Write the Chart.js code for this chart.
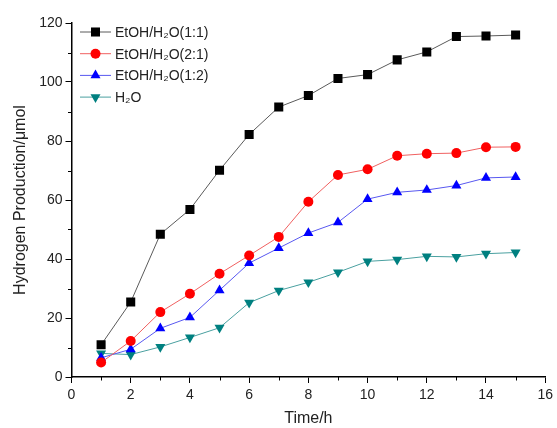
<!DOCTYPE html>
<html>
<head>
<meta charset="utf-8">
<script src="https://cdn.jsdelivr.net/npm/chart.js@4"></script>
<style>
  html, body { margin: 0; padding: 0; background: #fff; }
  #wrap { width: 557px; height: 428px; }
</style>
</head>
<body>
<div id="wrap"><canvas id="myChart" width="557" height="428"></canvas></div>
<script>
// values
let hours = [1, 2, 3, 4, 5, 6, 7, 8, 9, 10, 11, 12, 13, 14, 15]
let etoh11 = [10.9, 25.4, 48.4, 56.8, 70.1, 82.2, 91.5, 95.4, 101.2, 102.5, 107.5, 110.2, 115.4, 115.6, 115.9]
let etoh21 = [4.9, 12.2, 22.0, 28.2, 35.0, 41.2, 47.5, 59.4, 68.5, 70.4, 75.0, 75.7, 75.9, 77.9, 78.0]
let etoh12 = [6.5, 9.4, 16.5, 20.2, 29.4, 38.6, 43.7, 48.8, 52.4, 60.3, 62.6, 63.4, 64.9, 67.5, 67.8]
let water = [8.0, 7.6, 10.2, 13.4, 16.7, 25.2, 29.3, 32.1, 35.5, 39.2, 39.8, 40.9, 40.7, 41.8, 42.2]
let seriesNames = ['EtOH/H\u2082O(1:1)', 'EtOH/H\u2082O(2:1)', 'EtOH/H\u2082O(1:2)', 'H\u2082O']

const font = "'Liberation Sans', Arial, sans-serif"

const pts = (ys) => hours.map((h, i) => ({ x: h, y: ys[i] }))

const makeSet = (label, ys, color, lineColor, style, radius, rotation) => ({
  label: label,
  data: pts(ys),
  borderColor: lineColor,
  backgroundColor: color,
  pointBackgroundColor: color,
  borderWidth: 1,
  pointStyle: style,
  pointRadius: radius,
  pointRotation: rotation,
  pointBorderWidth: 0,
  pointHoverRadius: radius,
  tension: 0
})

// legend drawn inside the plot, line + marker + name
const insideLegend = {
  id: 'insideLegend',
  afterDraw(chart) {
    const c = chart.ctx
    const area = chart.chartArea
    c.save()
    chart.data.datasets.forEach((ds, i) => {
      const y = area.top + 9 + i * 21.7
      const x0 = area.left + 8.5
      c.strokeStyle = ds.borderColor
      c.lineWidth = 1
      c.beginPath()
      c.moveTo(x0, y)
      c.lineTo(x0 + 31, y)
      c.stroke()
      c.fillStyle = ds.backgroundColor
      Chart.helpers.drawPoint(c, {
        pointStyle: ds.pointStyle,
        radius: ds.pointRadius,
        rotation: ds.pointRotation,
        borderWidth: 0
      }, x0 + 15.5, y)
      c.fillStyle = '#222'
      c.font = '14px ' + font
      c.textBaseline = 'middle'
      c.fillText(ds.label, x0 + 35, y + 1)
    })
    c.restore()
  }
}

// short ticks for the odd steps
const minorTicks = {
  id: 'minorTicks',
  afterDraw(chart) {
    const c = chart.ctx
    const xs = chart.scales.x
    const ys = chart.scales.y
    c.save()
    c.strokeStyle = '#000'
    c.lineWidth = 1
    c.beginPath()
    xs.ticks.forEach((t) => {
      if (t.value % 2 !== 0) {
        const px = Math.round(xs.getPixelForValue(t.value)) + 0.5
        c.moveTo(px, xs.top)
        c.lineTo(px, xs.top + 3.5)
      }
    })
    ys.ticks.forEach((t) => {
      if (t.value % 20 !== 0) {
        const py = Math.round(ys.getPixelForValue(t.value)) + 0.5
        c.moveTo(ys.right, py)
        c.lineTo(ys.right - 3.5, py)
      }
    })
    c.stroke()
    c.restore()
  }
}

const ctx = document.getElementById('myChart')
const chart = new Chart(ctx, {
  type: 'line',
  data: {
    datasets: [
      makeSet(seriesNames[0], etoh11, '#000000', '#5a5a5a', 'rect', 6.4, 0),
      makeSet(seriesNames[1], etoh21, '#ff0000', '#f06060', 'circle', 5, 0),
      makeSet(seriesNames[2], etoh12, '#0000ff', '#5858f0', 'triangle', 5.8, 0),
      makeSet(seriesNames[3], water, '#008080', '#4aa0a0', 'triangle', 5.8, 180)
    ]
  },
  options: {
    responsive: false,
    animation: false,
    layout: { padding: { left: 0, top: 23, right: 8, bottom: 0 } },
    plugins: {
      legend: { display: false },
      tooltip: { enabled: false }
    },
    scales: {
      x: {
        type: 'linear',
        min: 0,
        max: 16,
        afterFit: (s) => { s.height = 51 },
        border: { display: true, color: '#000', width: 1.5 },
        grid: {
          drawOnChartArea: false,
          tickLength: 6,
          tickColor: (c) => (c.tick && c.tick.value % 2 !== 0 ? 'rgba(0,0,0,0)' : '#000')
        },
        ticks: {
          stepSize: 1,
          autoSkip: false,
          maxRotation: 0,
          padding: 4,
          color: '#222',
          font: { family: font, size: 14 },
          callback: (v) => (v % 2 === 0 ? v : '')
        },
        title: {
          display: true,
          text: 'Time/h',
          color: '#222',
          font: { family: font, size: 16 },
          padding: { top: 0, bottom: 0 }
        }
      },
      y: {
        min: 0,
        max: 120,
        afterFit: (s) => { s.width = 71.5 },
        border: { display: true, color: '#000', width: 1.5 },
        grid: {
          drawOnChartArea: false,
          tickLength: 6,
          tickColor: (c) => (c.tick && c.tick.value % 20 !== 0 ? 'rgba(0,0,0,0)' : '#000')
        },
        ticks: {
          stepSize: 10,
          autoSkip: false,
          padding: 3,
          color: '#222',
          font: { family: font, size: 14 },
          callback: (v) => (v % 20 === 0 ? v : '')
        },
        title: {
          display: true,
          text: 'Hydrogen Production/\u03bcmol',
          color: '#222',
          font: { family: font, size: 16 },
          padding: { top: 11, bottom: 0 }
        }
      }
    }
  },
  plugins: [insideLegend, minorTicks]
})
</script>
</body>
</html>
